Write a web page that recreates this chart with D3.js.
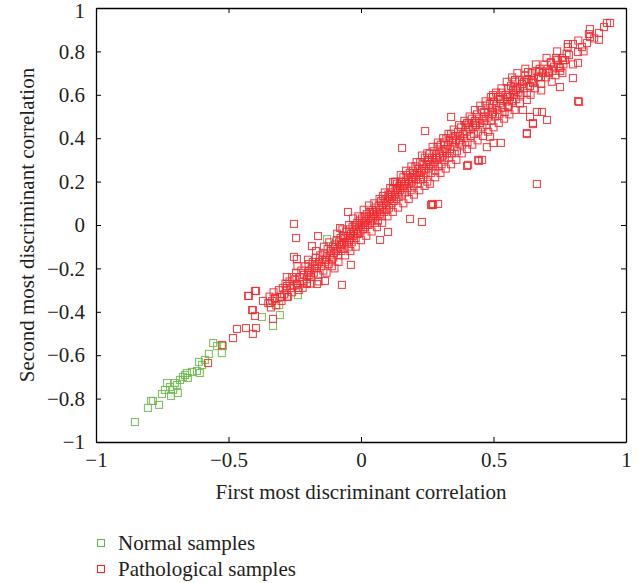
<!DOCTYPE html>
<html>
<head>
<meta charset="utf-8">
<script src="https://cdn.jsdelivr.net/npm/d3@7"></script>
<style>
  body { margin: 0; background: #fff; }
  svg text { font-family: "Liberation Serif", "DejaVu Serif", serif; fill: #231f20; }
</style>
</head>
<body>
<svg id="chart" width="639" height="583"></svg>
<script>
// ticks
var xTicks = [-1, -0.5, 0, 0.5, 1];
var yTicks = [-1, -0.8, -0.6, -0.4, -0.2, 0, 0.2, 0.4, 0.6, 0.8, 1];

// normal samples (first, second discriminant correlation)
var normalPts = [
  [-0.853,-0.908],[-0.804,-0.843],[-0.792,-0.811],[-0.762,-0.829],[-0.785,-0.811],[-0.751,-0.779],
  [-0.74,-0.76],[-0.717,-0.788],[-0.721,-0.747],[-0.702,-0.728],[-0.691,-0.774],[-0.683,-0.714],
  [-0.672,-0.7],[-0.657,-0.682],[-0.653,-0.705],[-0.619,-0.673],[-0.608,-0.682],[-0.611,-0.631],
  [-0.6,-0.645],[-0.574,-0.594],[-0.558,-0.544],[-0.543,-0.558],[-0.525,-0.59],[-0.521,-0.558],
  [-0.332,-0.465],[-0.306,-0.415],[-0.238,-0.323],[-0.374,-0.424],[-0.128,-0.065],[-0.309,-0.369],
  [-0.709,-0.76],[-0.732,-0.728],[-0.694,-0.737],[-0.664,-0.691],[-0.638,-0.677],[-0.589,-0.622]
];

// pathological samples
var pathoPts = [
  // lower tail
  [-0.577,-0.636],[-0.525,-0.553],[-0.483,-0.521],[-0.468,-0.479],[-0.434,-0.475],[-0.408,-0.502],
  [-0.396,-0.475],[-0.4,-0.419],[-0.408,-0.392],[-0.332,-0.433],[-0.423,-0.327],[-0.396,-0.304],
  [-0.37,-0.35],[-0.343,-0.359],[-0.325,-0.336],[-0.298,-0.332],[-0.279,-0.281],[-0.242,-0.276],
  [-0.204,-0.267],
  // band
  [-0.35,-0.36],[-0.345,-0.33],[-0.34,-0.38],[-0.335,-0.35],[-0.33,-0.31],[-0.325,-0.34],[-0.32,-0.37],
  [-0.31,-0.3],[-0.305,-0.33],[-0.3,-0.35],[-0.295,-0.29],[-0.29,-0.32],[-0.285,-0.27],[-0.28,-0.3],
  [-0.275,-0.33],[-0.27,-0.26],[-0.265,-0.29],[-0.26,-0.24],[-0.255,-0.28],[-0.25,-0.25],[-0.245,-0.22],
  [-0.24,-0.27],[-0.235,-0.3],[-0.23,-0.24],[-0.225,-0.21],[-0.22,-0.26],[-0.215,-0.23],[-0.21,-0.19],
  [-0.205,-0.25],[-0.2,-0.22],
  [-0.198,-0.18],[-0.195,-0.21],[-0.19,-0.24],[-0.186,-0.2],[-0.182,-0.17],[-0.178,-0.22],[-0.174,-0.19],
  [-0.17,-0.15],[-0.166,-0.2],[-0.162,-0.23],[-0.158,-0.17],[-0.154,-0.14],[-0.15,-0.19],[-0.146,-0.16],
  [-0.142,-0.21],[-0.138,-0.13],[-0.134,-0.17],[-0.13,-0.15],[-0.126,-0.11],[-0.122,-0.18],[-0.118,-0.14],
  [-0.114,-0.12],[-0.11,-0.16],[-0.106,-0.1],[-0.102,-0.13],[-0.1,-0.2],
  [-0.098,-0.09],[-0.095,-0.12],[-0.092,-0.07],[-0.089,-0.11],[-0.086,-0.14],[-0.083,-0.08],[-0.08,-0.1],
  [-0.077,-0.06],[-0.074,-0.12],[-0.071,-0.09],[-0.068,-0.05],[-0.065,-0.08],[-0.062,-0.11],[-0.059,-0.06],
  [-0.056,-0.03],[-0.053,-0.08],[-0.05,-0.05],[-0.047,-0.1],[-0.044,-0.02],[-0.041,-0.06],[-0.038,-0.04],
  [-0.035,-0.08],[-0.032,-0.01],[-0.029,-0.05],[-0.026,-0.03],[-0.023,0.0],[-0.02,-0.06],[-0.017,-0.02],
  [-0.014,0.01],[-0.011,-0.04],[-0.008,-0.01],[-0.005,0.02],[-0.002,-0.03],[0.001,0.0],[0.004,0.03],
  [0.007,-0.02],[0.01,0.01],[0.013,0.04],[0.016,-0.01],[0.019,0.02],[0.022,0.05],[0.025,0.0],[0.028,0.03],
  [0.031,0.06],[0.034,0.01],[0.037,0.04],[0.04,0.02],[0.043,0.07],[0.046,0.03],[0.049,0.05],[0.052,0.01],
  [0.055,0.08],[0.058,0.04],[0.061,0.06],[0.064,0.02],[0.067,0.09],[0.07,0.05],[0.073,0.07],[0.076,0.11],
  [0.079,0.04],[0.082,0.08],[0.085,0.1],[0.088,0.06],[0.091,0.12],[0.094,0.09],[0.097,0.07],
  [0.1,0.11],[0.103,0.14],[0.106,0.08],[0.109,0.12],[0.112,0.15],[0.115,0.1],[0.118,0.13],[0.121,0.17],
  [0.124,0.11],[0.127,0.14],[0.13,0.16],[0.133,0.12],[0.136,0.19],[0.139,0.15],[0.142,0.13],[0.145,0.18],
  [0.148,0.16],[0.151,0.2],[0.154,0.14],[0.157,0.17],[0.16,0.22],[0.163,0.18],[0.166,0.15],[0.169,0.2],
  [0.172,0.23],[0.175,0.17],[0.178,0.21],[0.181,0.19],[0.184,0.24],[0.187,0.16],[0.19,0.22],[0.193,0.2],
  [0.196,0.25],[0.199,0.18],[0.202,0.23],[0.205,0.27],[0.208,0.21],[0.211,0.24],[0.214,0.19],[0.217,0.26],
  [0.22,0.23],[0.223,0.29],[0.226,0.21],[0.229,0.25],[0.232,0.28],[0.235,0.22],[0.238,0.26],[0.241,0.31],
  [0.244,0.24],[0.247,0.28],[0.25,0.2],[0.253,0.3],[0.256,0.26],[0.259,0.33],[0.262,0.28],[0.265,0.24],
  [0.268,0.31],[0.271,0.27],[0.274,0.34],[0.277,0.29],[0.28,0.25],[0.283,0.32],[0.286,0.3],[0.289,0.36],
  [0.292,0.27],[0.295,0.33],[0.298,0.31],[0.301,0.37],[0.304,0.28],[0.307,0.34],[0.31,0.32],[0.313,0.38],
  [0.316,0.3],[0.319,0.35],[0.322,0.4],[0.325,0.33],[0.328,0.37],[0.331,0.31],[0.334,0.39],[0.337,0.35],
  [0.34,0.42],[0.343,0.33],[0.346,0.38],
  [0.35,0.36],[0.354,0.41],[0.358,0.39],[0.362,0.34],[0.366,0.43],[0.37,0.38],[0.374,0.41],[0.378,0.45],
  [0.382,0.37],[0.386,0.42],[0.39,0.4],[0.394,0.46],[0.398,0.43],[0.402,0.38],[0.406,0.47],[0.41,0.44],
  [0.414,0.41],[0.418,0.49],[0.422,0.45],[0.426,0.42],[0.43,0.48],[0.434,0.46],[0.438,0.51],[0.442,0.43],
  [0.446,0.49],[0.45,0.47],[0.454,0.53],[0.458,0.45],[0.462,0.5],[0.466,0.48],[0.47,0.55],[0.474,0.46],
  [0.478,0.52],[0.482,0.5],[0.486,0.56],[0.49,0.48],[0.494,0.54],[0.498,0.52],[0.502,0.57],[0.506,0.5],
  [0.51,0.55],[0.514,0.53],[0.518,0.59],[0.522,0.51],[0.526,0.56],[0.53,0.61],[0.534,0.54],[0.538,0.58],
  [0.542,0.52],[0.546,0.6],[0.55,0.57],[0.554,0.63],[0.558,0.55],[0.562,0.59],[0.566,0.64],[0.57,0.57],
  [0.574,0.62],[0.578,0.6],[0.582,0.66],[0.586,0.58],[0.59,0.63],[0.594,0.61],[0.598,0.67],
  [0.602,0.6],[0.608,0.65],[0.614,0.63],[0.62,0.69],[0.626,0.61],[0.632,0.67],[0.638,0.64],[0.644,0.7],
  [0.65,0.66],[0.656,0.63],[0.662,0.71],[0.668,0.68],[0.674,0.72],[0.68,0.65],[0.686,0.7],[0.692,0.74],
  [0.698,0.68],[0.704,0.72],[0.71,0.7],[0.716,0.75],[0.722,0.71],[0.728,0.73],[0.734,0.69],[0.74,0.76],
  [0.746,0.73],[0.752,0.71],[0.758,0.77],[0.764,0.74],[0.77,0.76],[0.776,0.79],
  // band edges
  [-0.28,-0.24],[-0.26,-0.31],[-0.24,-0.19],[-0.22,-0.29],[-0.2,-0.16],[-0.19,-0.27],[-0.17,-0.12],
  [-0.16,-0.26],[-0.14,-0.1],[-0.13,-0.22],[-0.12,-0.08],[-0.11,-0.19],[-0.09,-0.04],[-0.085,-0.17],
  [-0.07,-0.02],[-0.06,-0.14],[-0.045,0.0],[-0.04,-0.12],[-0.03,0.03],[-0.02,-0.1],[-0.01,0.04],
  [0.0,-0.07],[0.01,0.07],[0.02,-0.05],[0.03,0.09],[0.04,-0.03],[0.05,0.1],[0.06,-0.01],[0.07,0.12],
  [0.08,0.01],[0.09,0.15],[0.1,0.04],[0.11,0.17],[0.12,0.06],[0.13,0.2],[0.14,0.08],[0.15,0.23],
  [0.16,0.1],[0.17,0.25],[0.18,0.12],[0.19,0.27],[0.2,0.14],[0.21,0.29],[0.22,0.16],[0.23,0.32],
  [0.24,0.18],[0.25,0.33],[0.26,0.19],[0.27,0.36],[0.28,0.22],[0.29,0.38],[0.3,0.24],[0.31,0.4],
  [0.32,0.26],[0.33,0.42],[0.34,0.28],[0.35,0.44],[0.36,0.3],[0.37,0.46],[0.38,0.33],[0.39,0.48],
  [0.4,0.35],[0.41,0.5],[0.42,0.37],[0.43,0.53],[0.44,0.39],[0.45,0.55],[0.46,0.41],[0.47,0.57],
  [0.48,0.43],[0.49,0.59],[0.5,0.45],[0.51,0.61],[0.52,0.47],[0.53,0.63],[0.54,0.49],[0.55,0.66],
  [0.56,0.51],[0.57,0.68],[0.58,0.53],[0.59,0.7],[0.6,0.56],[0.62,0.72],[0.64,0.6],[0.66,0.74],
  [0.68,0.62],[0.7,0.77],[0.72,0.66],[0.74,0.8],[0.76,0.7],[0.78,0.82],[0.8,0.74],[0.82,0.85],
  [0.84,0.8],[0.86,0.88],[0.88,0.86],
  [0.015,0.0],[0.045,0.06],[0.105,0.13],[0.135,0.17],[0.165,0.19],[0.195,0.22],[0.225,0.24],
  [0.255,0.29],[0.285,0.31],[0.315,0.35],[0.345,0.4],[0.375,0.39],[0.405,0.45],[0.435,0.47],
  [0.465,0.52],[0.495,0.51],[0.525,0.58],[0.555,0.59],[0.585,0.62],[0.615,0.66],[0.645,0.67],
  [-0.015,-0.04],[-0.045,-0.07],[-0.075,-0.09],[-0.105,-0.15],[-0.135,-0.16],[-0.165,-0.18],[-0.195,-0.23],
  // upper tail
  [0.94,0.931],[0.928,0.931],[0.917,0.912],[0.898,0.885],[0.898,0.853],[0.864,0.903],[0.864,0.866],
  [0.853,0.839],[0.834,0.82],[0.819,0.797],[0.8,0.834],[0.781,0.834],[0.785,0.783],[0.819,0.747],
  [0.8,0.677],[0.762,0.76],[0.751,0.724],[0.736,0.77],[0.751,0.636],[0.717,0.747],[0.709,0.705],
  [0.679,0.682],[0.672,0.705],[0.649,0.654],[0.63,0.705],[0.626,0.668],[0.626,0.576],[0.581,0.668],
  [0.574,0.622],[0.6,0.63],[0.498,0.599],[0.551,0.59],[0.555,0.544],[0.611,0.53],[0.664,0.521],
  [0.683,0.521],[0.649,0.465],[0.638,0.498],[0.626,0.419],[0.823,0.567],[0.5,0.378],[0.487,0.406],
  // outliers
  [0.664,0.189],[0.819,0.571],[0.242,0.433],[0.155,0.355],[-0.253,0.005],[-0.049,0.06],[0.272,0.092],
  [-0.072,-0.276],[-0.245,-0.06],[0.498,0.59],[-0.162,-0.051],[-0.185,-0.097],[-0.253,-0.147],
  [-0.242,-0.157],[-0.079,-0.014],[-0.038,-0.184],[-0.136,-0.258],[-0.166,-0.272],[-0.204,-0.272],
  [-0.4,-0.304],[-0.426,-0.327],[-0.411,-0.392],[-0.279,-0.332],[-0.238,-0.29],[0.072,-0.069],
  [0.102,-0.032],[0.083,0.134],[0.128,0.198],[0.121,0.198],[0.264,0.092],[0.291,0.097],[0.23,0.014],
  [0.185,0.028],[0.268,0.097],[0.445,0.295],[0.404,0.277],[0.34,0.498],[0.4,0.47],[0.626,0.424],
  [0.649,0.47],[0.702,0.484],[0.442,0.3],[0.4,0.272],[0.528,0.378],[0.475,0.359],[0.457,0.3]
];

var greenCol = "#6ab84a";
var redCol = "#ee2a2f";

var svg = d3.select("#chart");
var plotL = 96, plotR = 626, plotT = 8, plotB = 442;
var fontSize = "21px";

var x = d3.scaleLinear().domain([-1, 1]).range([plotL, plotR]);
var y = d3.scaleLinear().domain([-1, 1]).range([plotB, plotT]);

function fmt(d) { return d3.format("")(d).replace("-", "\u2212"); }

// markers - normal first, pathological on top
function drawPts(pts, col) {
    svg.append("g").selectAll("rect").data(pts).enter().append("rect")
        .attr("x", function(d){ return x(d[0]) - 3.5; })
        .attr("y", function(d){ return y(d[1]) - 3.5; })
        .attr("width", 7).attr("height", 7)
        .attr("fill", "none")
        .attr("stroke", col)
        .attr("stroke-opacity", 0.85)
        .attr("stroke-width", 1.1);
}
drawPts(normalPts, greenCol);
drawPts(pathoPts, redCol);

// frame with inward ticks on all sides
var xb = svg.append("g").attr("transform", "translate(0," + plotB + ")")
    .call(d3.axisBottom(x).tickValues(xTicks).tickSizeInner(-5).tickSizeOuter(0).tickPadding(10).tickFormat(fmt));
var xt = svg.append("g").attr("transform", "translate(0," + plotT + ")")
    .call(d3.axisTop(x).tickValues(xTicks).tickSizeInner(-5).tickSizeOuter(0).tickFormat(""));
var yl = svg.append("g").attr("transform", "translate(" + plotL + ",0)")
    .call(d3.axisLeft(y).tickValues(yTicks).tickSizeInner(-5).tickSizeOuter(0).tickPadding(11).tickFormat(fmt));
var yr = svg.append("g").attr("transform", "translate(" + plotR + ",0)")
    .call(d3.axisRight(y).tickValues(yTicks).tickSizeInner(-5).tickSizeOuter(0).tickFormat(""));

[xb, xt, yl, yr].forEach(function(g){
    g.selectAll(".domain").attr("stroke", "#000").attr("stroke-width", 1.3);
    g.selectAll(".tick line").attr("stroke", "#000").attr("stroke-width", 1);
    g.selectAll("text").style("font-size", fontSize).attr("fill", "#231f20")
        .style("font-family", "'Liberation Serif', serif");
});
// keep the top "1" label inside the picture
yl.selectAll(".tick text").filter(function(d){ return d === 1; }).attr("dy", "0.45em");

// axis titles
svg.append("text")
    .attr("x", (plotL + plotR) / 2).attr("y", 499)
    .attr("text-anchor", "middle")
    .style("font-size", fontSize)
    .text("First most discriminant correlation");

svg.append("text")
    .attr("transform", "translate(34," + ((plotT + plotB) / 2) + ") rotate(-90)")
    .attr("text-anchor", "middle")
    .style("font-size", fontSize)
    .text("Second most discriminant correlation");

// legend
var legendNames = ["Normal samples", "Pathological samples"];
var legendCols = [greenCol, redCol];
var lg = svg.append("g");
legendNames.forEach(function(n, i){
    var ly = 543 + i * 26;
    lg.append("rect").attr("x", 97.5).attr("y", ly - 3.5).attr("width", 7).attr("height", 7)
        .attr("fill", "none").attr("stroke", legendCols[i]).attr("stroke-width", 1.1);
    lg.append("text").attr("x", 118).attr("y", ly + 7)
        .style("font-size", fontSize).text(n);
});
</script>
</body>
</html>
